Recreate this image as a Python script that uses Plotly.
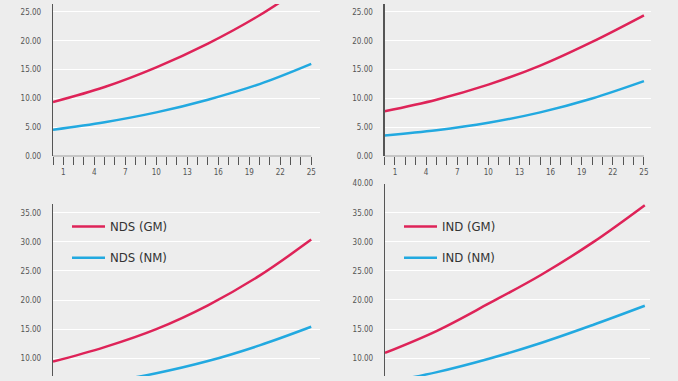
import plotly.graph_objects as go

# ---- data ----
x_pts = [0, 5, 10, 15, 20, 25]
tl_gm = [9.4, 12.0, 15.4, 19.5, 24.4, 30.3]
tl_nm = [4.6, 5.9, 7.6, 9.8, 12.5, 16.0]
tr_gm = [7.8, 9.8, 12.4, 15.7, 19.8, 24.4]
tr_nm = [3.6, 4.5, 5.8, 7.6, 10.0, 13.0]
nds_gm = [9.4, 11.9, 15.0, 19.1, 24.2, 30.4]
nds_nm = [4.5, 5.8, 7.4, 9.5, 12.2, 15.4]
ind_gm = [10.9, 14.7, 19.4, 24.3, 29.9, 36.3]
ind_nm = [5.8, 7.6, 9.9, 12.6, 15.7, 19.0]
x_tick_vals = [1, 4, 7, 10, 13, 16, 19, 22, 25]
x_tick_text = ["1", "4", "7", "10", "13", "16", "19", "22", "25"]
legend_nds = ["NDS (GM)", "NDS (NM)"]
legend_ind = ["IND (GM)", "IND (NM)"]

W, H = 678, 381
RED = "#DE2358"
BLUE = "#22A9E0"
BG = "#EDEDED"
AXC = "#555555"
FONT = "DejaVu Sans Condensed, Liberation Sans, sans-serif"


def px(x):
    return x / W


def py(y):
    return 1 - y / H


fig = go.Figure()

panels = [
    ("", tl_gm, tl_nm, (53, 320), (0, 156), [0, 25.85], [0, 26.35], True),
    ("2", tr_gm, tr_nm, (384.6, 651), (0, 156), [0, 25.68], [0, 26.35], True),
    ("3", nds_gm, nds_nm, (53, 320), (205, 381), [0, 25.85], [6.93, 36.5], False),
    ("4", ind_gm, ind_nm, (385, 650), (184, 381), [0, 25.5], [6.93, 40.0], False),
]

layout_axes = {}
shapes = []
for suf, gm, nm, xd, yd, xr, yr, showx in panels:
    xa = "x" + suf
    ya = "y" + suf
    fig.add_trace(go.Scatter(x=x_pts, y=nm, mode="lines", xaxis=xa, yaxis=ya,
                             line=dict(color=BLUE, width=2.5, shape="spline"),
                             showlegend=False, hoverinfo="skip"))
    fig.add_trace(go.Scatter(x=x_pts, y=gm, mode="lines", xaxis=xa, yaxis=ya,
                             line=dict(color=RED, width=2.5, shape="spline"),
                             showlegend=False, hoverinfo="skip"))
    xaxis = dict(domain=[px(xd[0]), px(xd[1])], range=xr, anchor=ya,
                 showgrid=False, zeroline=False, showline=False)
    if showx:
        xaxis.update(tickmode="array", tickvals=x_tick_vals, ticktext=x_tick_text,
                     ticks="outside", ticklen=8, tickwidth=1, tickcolor=AXC,
                     tickfont=dict(family=FONT, size=8, color="#555555"),
                     minor=dict(ticks="outside", ticklen=8, tickwidth=1, tickcolor=AXC,
                                dtick=1, tick0=0, showgrid=False))
        shapes.append(dict(type="line", xref=xa, yref=ya, x0=-0.3, x1=25, y0=0, y1=0,
                           line=dict(color=AXC, width=1.2), layer="above"))
    else:
        xaxis.update(showticklabels=False, ticks="")
    yaxis = dict(domain=[py(yd[1]), py(yd[0])], range=yr, anchor=xa,
                 dtick=5, tick0=0, tickformat=".2f", showgrid=True,
                 gridcolor="#FFFFFF", gridwidth=1, zeroline=False,
                 showline=True, linecolor=AXC, linewidth=1.2, ticks="",
                 ticklabelstandoff=9,
                 tickfont=dict(family=FONT, size=8, color="#555555"))
    layout_axes["xaxis" + suf] = xaxis
    layout_axes["yaxis" + suf] = yaxis

annotations = []
for x0, labels in [(72, legend_nds), (404, legend_ind)]:
    for (yy, col, lab) in [(228, RED, labels[0]), (260, BLUE, labels[1])]:
        shapes.append(dict(type="line", xref="paper", yref="paper",
                           x0=px(x0), x1=px(x0 + 33), y0=py(yy), y1=py(yy),
                           line=dict(color=col, width=2.5)))
        annotations.append(dict(xref="paper", yref="paper", x=px(x0 + 36), y=py(yy),
                                xanchor="left", yanchor="middle", showarrow=False,
                                text=lab, font=dict(family=FONT, size=13, color="#333333")))

fig.update_layout(width=W, height=H, margin=dict(l=0, r=0, t=0, b=0),
                  paper_bgcolor=BG, plot_bgcolor=BG, showlegend=False,
                  hovermode=False,
                  shapes=shapes, annotations=annotations, **layout_axes)

fig.write_html("out.html",
               config={"displayModeBar": False, "staticPlot": True},
               post_script="document.body.style.margin='0';document.body.style.padding='0';document.body.style.overflow='hidden';")
